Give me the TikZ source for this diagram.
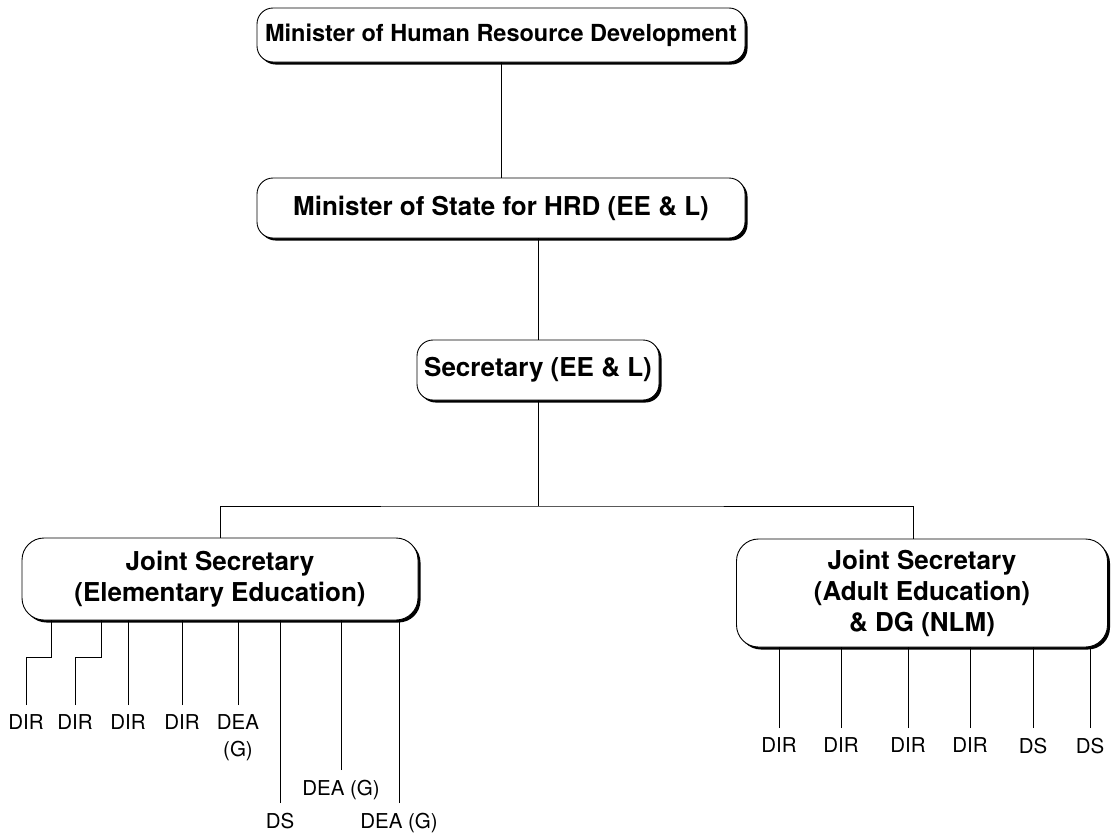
\documentclass[tikz,border=0pt]{standalone}
\usepackage{fontspec}
\setmainfont{TeX Gyre Heros}
\usepackage{tikz}
\usetikzlibrary{shadows,calc}

\tikzset{
  boxnode/.style={draw, fill=white, line width=0.9pt, rounded corners=16pt,
    align=center, inner sep=0pt,
    font=\bfseries\fontsize{26}{31}\selectfont,
    drop shadow={shadow xshift=2.5pt, shadow yshift=-2.5pt, opacity=1, fill=black}},
  jointnode/.style={boxnode, rounded corners=22pt},
  postlabel/.style={font=\fontsize{20.5}{27}\selectfont, inner sep=0pt,
    outer ysep=10pt, anchor=north, align=center},
  link/.style={line width=0.7pt}
}

\begin{document}
\begin{tikzpicture}[x=1pt, y=-1pt]
\useasboundingbox (0,0) rectangle (1111,838);

% top of the hierarchy
\node[boxnode, minimum width=488pt, minimum height=54pt,
      font=\bfseries\fontsize{23.5}{28}\selectfont] (minister) at (501,35)
  {Minister of Human Resource Development};
\node[boxnode, minimum width=488pt, minimum height=60pt] (state) at (501,208)
  {Minister of State for HRD (EE \& L)};
\node[boxnode, minimum width=242pt, minimum height=60pt] (secretary) at (538,370)
  {Secretary (EE \& L)};

\draw[link] (minister.south) -- (state.north);
\draw[link] (state.south -| secretary.north) -- (secretary.north);

% joint secretaries
\node[jointnode, minimum width=396pt, minimum height=82pt] (jsee) at (220,579)
  {Joint Secretary\\(Elementary Education)};
\node[jointnode, minimum width=371pt, minimum height=108pt] (jsae) at (922,593)
  {Joint Secretary\\(Adult Education)\\\& DG (NLM)};

\coordinate (bus) at (secretary.south |- 0,506);
\draw[link] (secretary.south) -- (bus);
\draw[link] (jsee.north) |- (bus) -| ([xshift=-9pt]jsae.north);

% posts under elementary education
\node[postlabel] (e1) at (26,705) {DIR};
\node[postlabel] (e2) at (75,705) {DIR};
\draw[link] (e1.north) -- ++(0,-48) -- ++(25,0) -- ++(0,-37);
\draw[link] (e2.north) -- ++(0,-48) -- ++(26,0) -- ++(0,-37);

\foreach \x/\y/\t [count=\i from 3] in {128/705/DIR, 182/705/DIR,
    238/705/{DEA\\(G)}, 280/803/DS, 341/770/DEA (G), 399/803/DEA (G)}
{
  \node[postlabel] (e\i) at (\x,\y) {\t};
  \draw[link] (e\i.north) -- (e\i.north |- jsee.south);
}

% posts under adult education
\foreach \x/\t [count=\i] in {779/DIR, 841/DIR, 908/DIR, 970/DIR, 1033/DS, 1090/DS}
{
  \node[postlabel] (a\i) at (\x,728) {\t};
  \draw[link] (a\i.north) -- (a\i.north |- jsae.south);
}

\end{tikzpicture}
\end{document}
